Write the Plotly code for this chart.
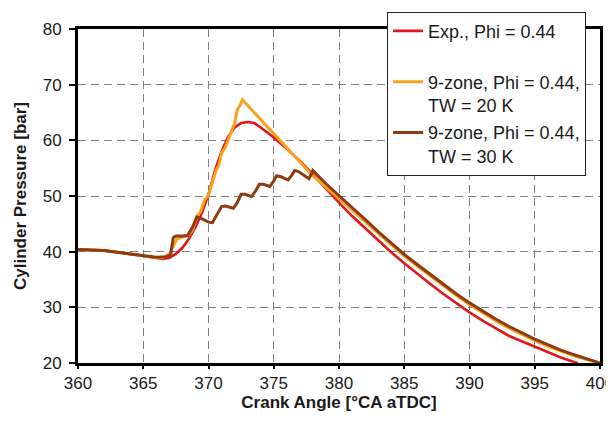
import plotly.graph_objects as go

# ---- data ----
exp_angle = [360, 362, 364, 365, 366, 366.5, 367, 367.5, 368, 368.5, 369, 369.5,
             370, 370.5, 371, 371.5, 372, 372.5, 373, 373.5, 374, 375, 376, 377,
             378, 379, 380, 381, 382, 383, 384, 385, 386, 387, 388, 389, 390,
             391, 392, 393, 394, 395, 396, 397, 398, 398.3]
exp_pressure = [40.4, 40.2, 39.6, 39.2, 38.8, 38.7, 38.9, 39.6, 40.7, 42.3, 44.4, 47.0,
                50.3, 54.6, 58.0, 60.6, 62.3, 63.1, 63.3, 63.1, 62.3, 60.5, 58.5, 56.3,
                53.9, 51.3, 48.8, 46.4, 44.2, 42.0, 39.9, 37.9, 36.0, 34.2, 32.4, 30.7, 29.1,
                27.6, 26.2, 24.9, 23.9, 22.9, 22.0, 21.0, 20.2, 20.0]

tw20_angle = [360, 362, 364, 365, 366, 366.5, 367, 367.3, 367.6, 368, 368.5, 368.8,
              369.1, 369.4, 369.7, 370.0, 370.2, 370.4, 370.6, 370.8, 371.0, 371.3,
              371.6, 371.8, 372.0, 372.2, 372.4, 372.6, 378.0, 379, 380, 381, 382,
              383, 384, 385, 386, 387, 388, 389, 390, 391, 392, 393, 394, 395, 396,
              397, 398, 399, 400]
tw20_pressure = [40.4, 40.2, 39.6, 39.2, 38.9, 38.9, 39.6, 41.0, 42.3, 42.6, 43.0, 44.0,
                 46.3, 47.2, 49.3, 50.2, 51.7, 53.0, 54.7, 55.6, 57.7, 58.8,
                 60.7, 61.6, 63.1, 65.5, 66.2, 67.3, 53.6, 51.6, 49.6, 47.5, 45.4,
                 43.3, 41.2, 39.2, 37.4, 35.6, 33.8, 32.1, 30.5, 29.0, 27.6, 26.3, 25.1,
                 24.0, 23.0, 22.1, 21.3, 20.6, 20.0]

tw30_angle = [360, 362, 364, 365, 366, 366.8, 367.1, 367.3, 367.5, 368.0, 368.4, 368.8,
              369.1, 369.4, 370.0, 370.3, 370.6, 371.0, 371.3, 371.9, 372.2, 372.5,
              372.8, 373.3, 373.6, 373.9, 374.2, 374.7, 375.0, 375.2, 375.5, 376.1,
              376.4, 376.6, 376.9, 377.7, 377.9, 378.0, 379, 380, 381, 382, 383, 384,
              385, 386, 387, 388, 389, 390, 391, 392, 393, 394, 395, 396, 397, 398,
              399, 400]
tw30_pressure = [40.4, 40.2, 39.6, 39.3, 39.0, 39.1, 39.5, 42.5, 42.8, 42.8, 42.9, 44.5,
                 46.2, 46.0, 45.3, 45.2, 46.5, 48.1, 48.2, 47.8, 48.8, 50.3,
                 50.3, 49.9, 50.9, 52.1, 52.1, 51.7, 52.7, 53.6, 53.5, 52.9,
                 53.8, 54.6, 54.4, 53.1, 54.0, 54.6, 52.2, 50.1, 47.9, 45.8, 43.6, 41.5,
                 39.5, 37.7, 35.9, 34.1, 32.4, 30.8, 29.3, 27.9, 26.6, 25.4, 24.3, 23.3,
                 22.3, 21.5, 20.7, 20.0]

series_names = ["Exp., Phi = 0.44<br>&nbsp;",
                "9-zone, Phi = 0.44,<br>TW = 20 K",
                "9-zone, Phi = 0.44,<br>TW = 30 K"]
x_ticks = [360, 365, 370, 375, 380, 385, 390, 395, 400]
y_ticks = [20, 30, 40, 50, 60, 70, 80]

FONT = "Liberation Sans, Arial, sans-serif"

fig = go.Figure()
fig.add_trace(go.Scatter(x=exp_angle, y=exp_pressure, mode="lines", name=series_names[0],
                         legendgroup="a", line=dict(color="#E3161B", width=2.6)))
fig.add_trace(go.Scatter(x=tw20_angle, y=tw20_pressure, mode="lines", name=series_names[1],
                         legendgroup="b", line=dict(color="#F7A31C", width=3)))
fig.add_trace(go.Scatter(x=tw30_angle, y=tw30_pressure, mode="lines", name=series_names[2],
                         legendgroup="c", line=dict(color="#8E3B12", width=3)))

axis_common = dict(
    showline=True, linecolor="black", linewidth=3, mirror=True,
    ticks="outside", tickwidth=2, tickcolor="black",
    showgrid=True, gridcolor="#7f7f7f", gridwidth=1, griddash="8px,5px",
    zeroline=False, tickfont=dict(family=FONT, size=17, color="#1a1a1a"),
    ticklabeloverflow="allow",
)

fig.update_xaxes(range=[360, 400], tickvals=x_ticks, ticklen=3, **axis_common,
                 title=dict(text="<b>Crank Angle [°CA aTDC]</b>",
                            font=dict(family=FONT, size=17, color="#1a1a1a"),
                            standoff=0))
fig.update_yaxes(range=[20, 80], tickvals=y_ticks, ticklen=6, ticklabelstandoff=4,
                 **axis_common,
                 title=dict(text="<b>Cylinder Pressure [bar]</b>",
                            font=dict(family=FONT, size=17, color="#1a1a1a"),
                            standoff=12))

# page body adds an 8px offset; keep the page from scrolling
fig.update_layout(
    width=606, height=406,
    margin=dict(l=70, r=14, t=21, b=51, autoexpand=False),
    paper_bgcolor="white", plot_bgcolor="white",
    showlegend=True,
    legend=dict(x=0.592, y=1.052, xanchor="left", yanchor="top",
                bgcolor="white", bordercolor="#222", borderwidth=1,
                font=dict(family=FONT, size=18, color="#1a1a1a"),
                valign="top", tracegroupgap=1, itemwidth=30),
    font=dict(family=FONT),
)

fig.write_html("out.html")
